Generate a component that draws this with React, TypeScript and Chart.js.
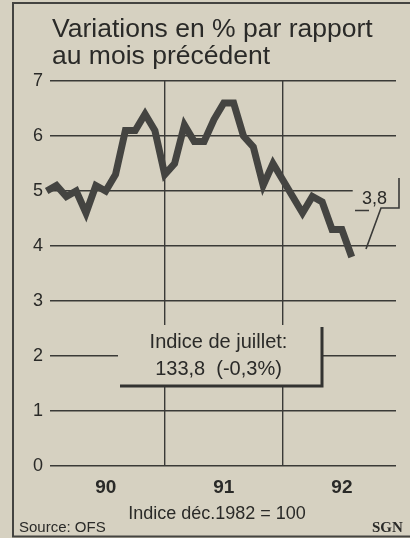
import React, { useEffect, useRef } from 'react';
import { Chart, registerables } from 'chart.js';

Chart.register(...registerables);

// Months from Dec 1989 (index -1) to Jul 1992 (index 30)
const monthLabels = [
  'déc. 89', 'janv. 90', 'févr. 90', 'mars 90', 'avr. 90', 'mai 90', 'juin 90', 'juil. 90', 'août 90', 'sept. 90', 'oct. 90', 'nov. 90',
  'déc. 90', 'janv. 91', 'févr. 91', 'mars 91', 'avr. 91', 'mai 91', 'juin 91', 'juil. 91', 'août 91', 'sept. 91', 'oct. 91', 'nov. 91',
  'déc. 91', 'janv. 92', 'févr. 92', 'mars 92', 'avr. 92', 'mai 92', 'juin 92', 'juil. 92',
];
const inflation = [
  5.0, 5.1, 4.9, 5.0, 4.6, 5.1, 5.0, 5.3, 6.1, 6.1, 6.4, 6.1,
  5.3, 5.5, 6.2, 5.9, 5.9, 6.3, 6.6, 6.6, 6.0, 5.8, 5.1, 5.5,
  5.2, 4.9, 4.6, 4.9, 4.8, 4.3, 4.3, 3.8,
];
const firstIndex = -1; // Dec 1989
const yearLabels = ['90', '91', '92'];
const yearLabelPositions = [5, 17, 29];
const yearDividers = [11, 23];
const yTickValues = [0, 1, 2, 3, 4, 5, 6, 7];

const titleLines = ['Variations en % par rapport', 'au mois précédent'];
const boxLines = ['Indice de juillet:', '133,8  (-0,3%)'];
const lastValueLabel = '3,8';
const baseNote = 'Indice déc.1982 = 100';
const sourceNote = 'Source: OFS';
const agencyNote = 'SGN';

const PAPER = '#d6d1c1';
const INK = '#2a2a28';
const GRID = '#3a3a37';
const LINE = '#444441';
const SANS = '"Liberation Sans", Arial, sans-serif';

const decorPlugin = {
  id: 'decor',
  beforeDraw(chart: any) {
    const ctx = chart.ctx;
    ctx.save();
    ctx.fillStyle = PAPER;
    ctx.fillRect(0, 0, chart.width, chart.height);
    // frame
    ctx.strokeStyle = '#444441';
    ctx.lineWidth = 2;
    ctx.beginPath();
    ctx.moveTo(410, 3);
    ctx.lineTo(13, 3);
    ctx.lineTo(13, 536.5);
    ctx.lineTo(410, 536.5);
    ctx.stroke();
    // title
    ctx.fillStyle = INK;
    ctx.font = `26.5px ${SANS}`;
    ctx.textAlign = 'left';
    ctx.textBaseline = 'alphabetic';
    ctx.fillText(titleLines[0], 52, 37);
    ctx.fillText(titleLines[1], 52, 64);
    // notes
    ctx.font = `18px ${SANS}`;
    ctx.textAlign = 'center';
    ctx.fillText(baseNote, 217, 519);
    ctx.font = `15px ${SANS}`;
    ctx.textAlign = 'left';
    ctx.fillText(sourceNote, 19, 532);
    ctx.font = `bold 15px "Liberation Serif", "Times New Roman", serif`;
    ctx.fillText(agencyNote, 372, 532);
    ctx.restore();
  },
  beforeDatasetsDraw(chart: any) {
    const ctx = chart.ctx;
    const yS = chart.scales.y;
    const xS = chart.scales.x;
    ctx.save();
    // info box masking the grid
    const bx0 = 118, bx1 = 322, by0 = 325, by1 = 386;
    ctx.fillStyle = PAPER;
    ctx.fillRect(bx0, by0, bx1 - bx0, by1 - by0);
    ctx.strokeStyle = '#333331';
    ctx.lineWidth = 3;
    ctx.beginPath();
    ctx.moveTo(bx1, by0 + 2);
    ctx.lineTo(bx1, by1);
    ctx.lineTo(bx0 + 2, by1);
    ctx.stroke();
    ctx.fillStyle = INK;
    ctx.font = `20px ${SANS}`;
    ctx.textAlign = 'center';
    ctx.textBaseline = 'alphabetic';
    ctx.fillText(boxLines[0], 218.5, 348);
    ctx.fillText(boxLines[1], 218.5, 375);

    // last value annotation
    const lastX = xS.getPixelForValue(firstIndex + inflation.length - 1);
    const y5 = yS.getPixelForValue(5);
    ctx.fillStyle = PAPER;
    ctx.fillRect(lastX + 1, y5 - 3, chart.chartArea.right - lastX + 2, 6);
    ctx.fillStyle = INK;
    ctx.font = `18px ${SANS}`;
    ctx.fillText(lastValueLabel, 374.5, 204);
    ctx.strokeStyle = '#3a3a38';
    ctx.lineWidth = 1.6;
    ctx.beginPath();
    ctx.moveTo(399, 178);
    ctx.lineTo(399, 208);
    ctx.lineTo(381, 208);
    ctx.lineTo(366, 249);
    ctx.moveTo(355, 210.5);
    ctx.lineTo(369, 210.5);
    ctx.stroke();
    ctx.restore();
  },
};

export default function App() {
  const ref = useRef<HTMLCanvasElement | null>(null);
  useEffect(() => {
    document.body.style.margin = '0';
    const canvas = ref.current;
    if (!canvas) return;
    const points = inflation.map((v, i) => ({ x: firstIndex + i, y: v }));
    const chart = new Chart(canvas, {
      type: 'line',
      data: {
        labels: monthLabels,
        datasets: [
          {
            label: 'Variation annuelle (%)',
            data: points,
            borderColor: LINE,
            borderWidth: 7,
            borderJoinStyle: 'miter',
            borderCapStyle: 'butt',
            pointRadius: 0,
            tension: 0,
            fill: false,
            clip: false,
          },
        ],
      },
      options: {
        responsive: false,
        animation: false,
        devicePixelRatio: 1,
        layout: { padding: { top: 81, left: 0, right: 14, bottom: 42 } },
        plugins: {
          legend: { display: false },
          tooltip: { enabled: false },
          title: { display: false },
        },
        scales: {
          x: {
            type: 'linear',
            min: -0.66,
            max: 34.5,
            afterBuildTicks: (scale: any) => {
              const vals = [...yearLabelPositions, ...yearDividers].sort((a, b) => a - b);
              scale.ticks = vals.map((v) => ({ value: v }));
            },
            afterFit: (scale: any) => {
              scale.height = 30;
            },
            ticks: {
              autoSkip: false,
              maxRotation: 0,
              padding: 10,
              color: INK,
              font: { family: SANS, size: 19, weight: 'bold' },
              callback: (value: any) => {
                const k = yearLabelPositions.indexOf(Number(value));
                return k >= 0 ? yearLabels[k] : '';
              },
            },
            grid: {
              drawTicks: false,
              lineWidth: 1.4,
              color: (c: any) =>
                c.tick && yearDividers.includes(c.tick.value) ? GRID : 'rgba(0,0,0,0)',
            },
            border: { display: false },
          },
          y: {
            min: 0,
            max: 7,
            afterBuildTicks: (scale: any) => {
              scale.ticks = yTickValues.map((v) => ({ value: v }));
            },
            afterFit: (scale: any) => {
              scale.width = 50;
            },
            ticks: {
              padding: 7,
              color: INK,
              font: { family: SANS, size: 18 },
            },
            grid: { drawTicks: false, color: GRID, lineWidth: 1.4 },
            border: { display: false },
          },
        },
      },
      plugins: [decorPlugin],
    } as any);
    return () => chart.destroy();
  }, []);
  return (
    <div style={{ width: 410, height: 538 }}>
      <canvas ref={ref} width={410} height={538} style={{ display: 'block' }} />
    </div>
  );
}
